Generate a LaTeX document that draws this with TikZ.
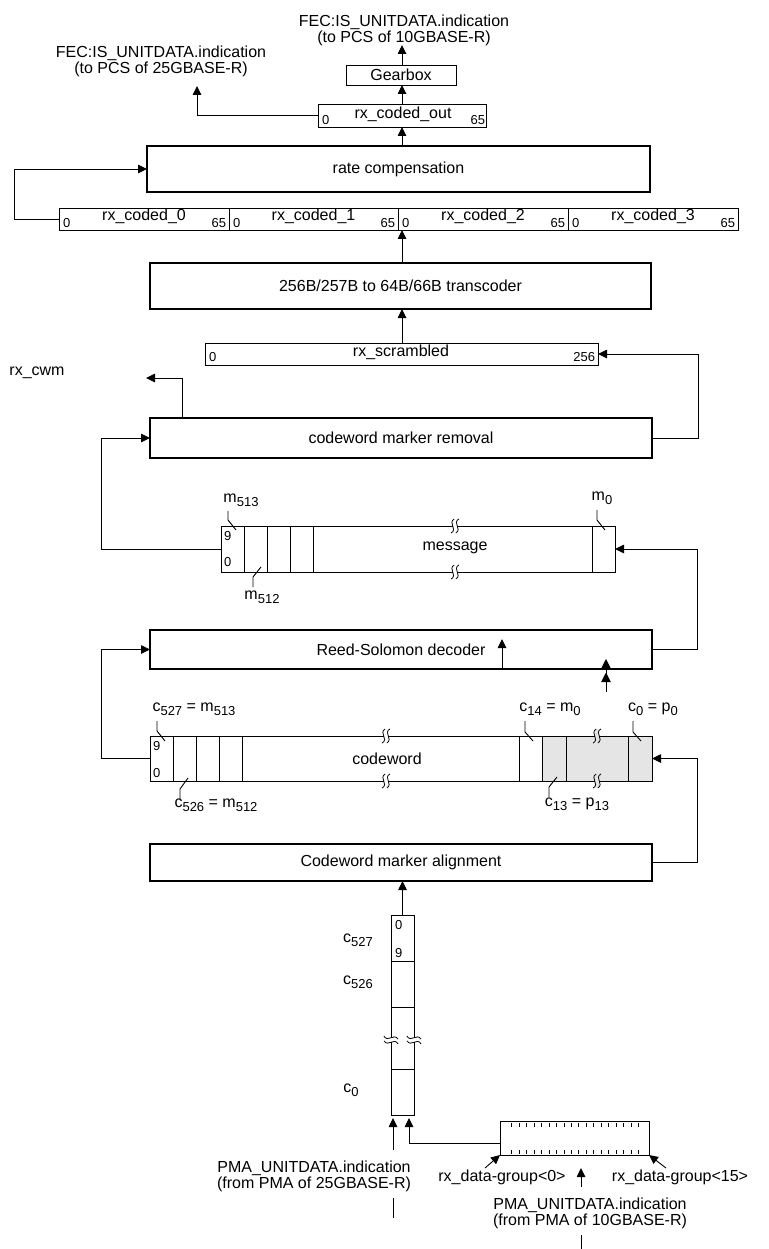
\documentclass[tikz,border=0pt]{standalone}
\usepackage{fontspec}
\setmainfont{Liberation Sans}
\usetikzlibrary{arrows.meta}
\pgfdeclarelayer{background}
\pgfsetlayers{background,main}
\newcommand\sbs[1]{\raisebox{-4pt}{\fontsize{13}{13}\selectfont #1}}
\tikzset{
  brk/.pic={
    \fill[#1] (-2.3,-7) rectangle (2.3,7);
    \draw[line width=0.8pt] (-0.8,-7) .. controls (-7.5,-3) and (3,3) .. (-3.8,7);
    \draw[line width=0.8pt] (3.8,-7) .. controls (-3,-3) and (7.5,3) .. (0.8,7);
  }
}
\begin{document}
\begin{tikzpicture}[x=1pt,y=-1pt,
  every node/.style={inner sep=0pt, outer sep=0pt, font=\fontsize{16}{16}\selectfont},
  box/.style={draw, line width=0.9pt},
  tbox/.style={draw, line width=2.6pt},
  num/.style={font=\fontsize{13}{13}\selectfont},
  ln/.style={line width=0.9pt},
  arr/.style={line width=0.9pt, -{Triangle[length=9pt,width=8.5pt]}},
  arrdbl/.style={line width=0.9pt, -{Triangle[length=9.5pt,width=9.5pt,sep=4pt]Triangle[length=9.5pt,width=9.5pt]}}
]
\useasboundingbox (0,0) rectangle (768,1249);

% ---------- top ----------
\node[align=center] (top10) at (404,30) {FEC:IS\_UNITDATA.indication\\(to PCS of 10GBASE-R)};
\node[align=center] (top25) at (161,61) {FEC:IS\_UNITDATA.indication\\(to PCS of 25GBASE-R)};
\coordinate (spine) at (402,0);
\coordinate (t10) at (402,45);
\coordinate (t25) at (197,86);
\node[box, minimum width=110pt, minimum height=20pt] (gearbox) at (401,75) {Gearbox};
\node[box, minimum width=168pt, minimum height=23pt] (codedout) at (402.5,115.5) {};
\node (codedoutL) at (403,114) {rx\_coded\_out};
\node[num, anchor=west] (co0) at (322,120) {0};
\node[num, anchor=east] (co65) at (485,120) {65};
\draw[arr] (spine |- gearbox.north) -- (t10);
\draw[arr] (spine |- codedout.north) -- (spine |- gearbox.south);
\draw[arr] (codedout.west) -| (t25);

% ---------- rate compensation ----------
\node[tbox, minimum width=503pt, minimum height=46pt] (ratecomp) at (398.5,169) {rate compensation};
\draw[arr] (spine |- ratecomp.north) -- (spine |- codedout.south);

\node[box, minimum width=170pt, minimum height=22pt] (cell0) at (144,219) {};
\node[box, minimum width=169pt, minimum height=22pt] (cell1) at (313.5,219) {};
\node[box, minimum width=170pt, minimum height=22pt] (cell2) at (483,219) {};
\node[box, minimum width=170pt, minimum height=22pt] (cell3) at (653,219) {};
\node (cl0) at (144,216) {rx\_coded\_0};
\node (cl1) at (313.5,216) {rx\_coded\_1};
\node (cl2) at (483,216) {rx\_coded\_2};
\node (cl3) at (653,216) {rx\_coded\_3};
\node[num, anchor=west] (z0) at (63,223) {0};
\node[num, anchor=west] (z1) at (233,223) {0};
\node[num, anchor=west] (z2) at (402,223) {0};
\node[num, anchor=west] (z3) at (572,223) {0};
\node[num, anchor=east] (s0) at (226,223) {65};
\node[num, anchor=east] (s1) at (395,223) {65};
\node[num, anchor=east] (s2) at (565,223) {65};
\node[num, anchor=east] (s3) at (735,223) {65};
\draw[arr] (cell0.west) -- ++(-45,0) |- (ratecomp.west);

% ---------- transcoder ----------
\node[tbox, minimum width=501pt, minimum height=46pt] (transcoder) at (400.5,286) {256B/257B to 64B/66B transcoder};
\draw[arr] (spine |- transcoder.north) -- (spine |- cell2.south);

\node[box, minimum width=393pt, minimum height=22pt] (scr) at (401.5,354) {};
\node (scrL) at (401,352) {rx\_scrambled};
\node[num, anchor=west] (scr0) at (209,357) {0};
\node[num, anchor=east] (scr256) at (595,357) {256};
\draw[arr] (spine |- scr.north) -- (spine |- transcoder.south);

% ---------- codeword marker removal ----------
\node[tbox, minimum width=502pt, minimum height=40pt] (cmr) at (401,438) {codeword marker removal};
\draw[arr] (cmr.east) -- ++(46,0) |- (scr.east);
\coordinate (cwmtip) at (146,378);
\coordinate (cwmx) at (182,0);
\draw[arr] (cwmx |- cmr.north) |- (cwmtip);
\node (cwm) at (37,373) {rx\_cwm};

% ---------- message ----------
\node[box, minimum width=394pt, minimum height=46pt] (msg) at (418,549) {};
\node (msgL) at (455,548) {message};
\foreach \x in {244,267,290,313,592} \draw[ln] (\x,526) -- (\x,572);
\node[num, anchor=west] (m9) at (224,536) {9};
\node[num, anchor=west] (m0n) at (224,562) {0};
\pic at (455,526) {brk=white};
\pic at (455,572) {brk=white};
\node (m513) at (241,500) {m\sbs{513}};
\draw[ln] (228,511) -- (228,520) -- (236,530);
\node (m512) at (262,597) {m\sbs{512}};
\draw[ln] (253,587) -- (253,577) -- (261,567);
\node (m0) at (602,498) {m\sbs{0}};
\draw[ln] (597,510) -- (597,520) -- (605,530);
\draw[arr] (msg.west) -- ++(-120,0) |- (cmr.west);

% ---------- Reed-Solomon decoder ----------
\node[tbox, minimum width=502pt, minimum height=39pt] (rsd) at (401,649.5) {Reed-Solomon decoder};
\draw[arr] (rsd.east) -- ++(45,0) |- (msg.east);
\coordinate (rsin) at (502,639);
\draw[arr] (rsin |- rsd.south) -- (rsin);
\coordinate (dbt) at (606,659);
\coordinate (dbb) at (606,692);
\draw[arrdbl] (dbb) -- (dbt);

% ---------- codeword ----------
\begin{pgfonlayer}{background}
\fill[black!10] (542,736) rectangle (652,781);
\end{pgfonlayer}
\node[box, minimum width=502pt, minimum height=45pt] (cw) at (401,758.5) {};
\node (cwL) at (387,759) {codeword};
\foreach \x in {173,196,219,242,519,542,566,628} \draw[ln] (\x,736) -- (\x,781);
\node[num, anchor=west] (c9) at (153,746) {9};
\node[num, anchor=west] (c0n) at (153,773) {0};
\pic at (386,736) {brk=white};
\pic at (386,781) {brk=white};
\pic at (597,736) {brk=black!10};
\pic at (597,781) {brk=black!10};
\node (c527) at (194,709) {c\sbs{527} = m\sbs{513}};
\draw[ln] (157,721) -- (157,731) -- (165,741);
\node (c14) at (550,709) {c\sbs{14} = m\sbs{0}};
\draw[ln] (525,721) -- (525,732) -- (533,741);
\node (c0) at (653,709) {c\sbs{0} = p\sbs{0}};
\draw[ln] (633,721) -- (633,732) -- (641,741);
\node (c526) at (216,805) {c\sbs{526} = m\sbs{512}};
\draw[ln] (180,800) -- (180,789) -- (188,778);
\node (c13) at (577,804) {c\sbs{13} = p\sbs{13}};
\draw[ln] (549,797) -- (549,787) -- (557,777);
\draw[arr] (cw.west) -- ++(-49,0) |- (rsd.west);

% ---------- codeword marker alignment ----------
\node[tbox, minimum width=502pt, minimum height=37pt] (cma) at (401,862.5) {Codeword marker alignment};
\draw[arr] (cma.east) -- ++(45,0) |- (cw.east);

% ---------- column ----------
\node[box, minimum width=23pt, minimum height=200pt] (col) at (402.5,1015) {};
\foreach \y in {961,1007,1069} \draw[ln] (391,\y) -- (414,\y);
\node[num, anchor=west] (k0n) at (395,925) {0};
\node[num, anchor=west] (k9n) at (395,953) {9};
\node (k527) at (358,940) {c\sbs{527}};
\node (k526) at (358,982) {c\sbs{526}};
\node (k0) at (351,1090) {c\sbs{0}};
\pic[rotate=90] at (391,1040) {brk=white};
\pic[rotate=90] at (414,1040) {brk=white};
\draw[arr] (col.north) -- (col.north |- cma.south);

% ---------- bottom ----------
\coordinate (p25) at (393,1150);
\coordinate (colL) at (393,0);
\coordinate (colR) at (409,0);
\draw[arr, shorten >=3pt] (p25) -- (colL |- col.south);
\node[box, minimum width=149pt, minimum height=34pt] (dg) at (574.5,1138) {};
\foreach \i in {0,...,17} {
  \draw[line width=0.7pt] ({511.7+\i*7.45},1123) -- ({511.7+\i*7.45},1127);
  \draw[line width=0.7pt] ({511.7+\i*7.45},1150) -- ({511.7+\i*7.45},1154);
}
\coordinate (dgl) at (500,1143);
\draw[arr, shorten >=3pt] (dgl) -| (colR |- col.south);
\node[align=center] (pma25) at (314,1176) {PMA\_UNITDATA.indication\\(from PMA of 25GBASE-R)};
\draw[ln] (393,1198) -- (393,1218);
\node (dg0) at (502,1177) {rx\_data-group<0>};
\node (dg15) at (680,1177) {rx\_data-group<15>};
\coordinate (dg0t) at (485,1168);
\coordinate (dg15t) at (666,1168);
\draw[arr] (dg0t) -- (dg.south west);
\draw[arr] (dg15t) -- (dg.south east);
\coordinate (mida) at (581,1187);
\coordinate (midb) at (581,1168);
\draw[arr] (mida) -- (midb);
\node[align=center] (pma10) at (590,1213) {PMA\_UNITDATA.indication\\(from PMA of 10GBASE-R)};
\draw[ln] (581,1235) -- (581,1249);
\end{tikzpicture}
\end{document}
